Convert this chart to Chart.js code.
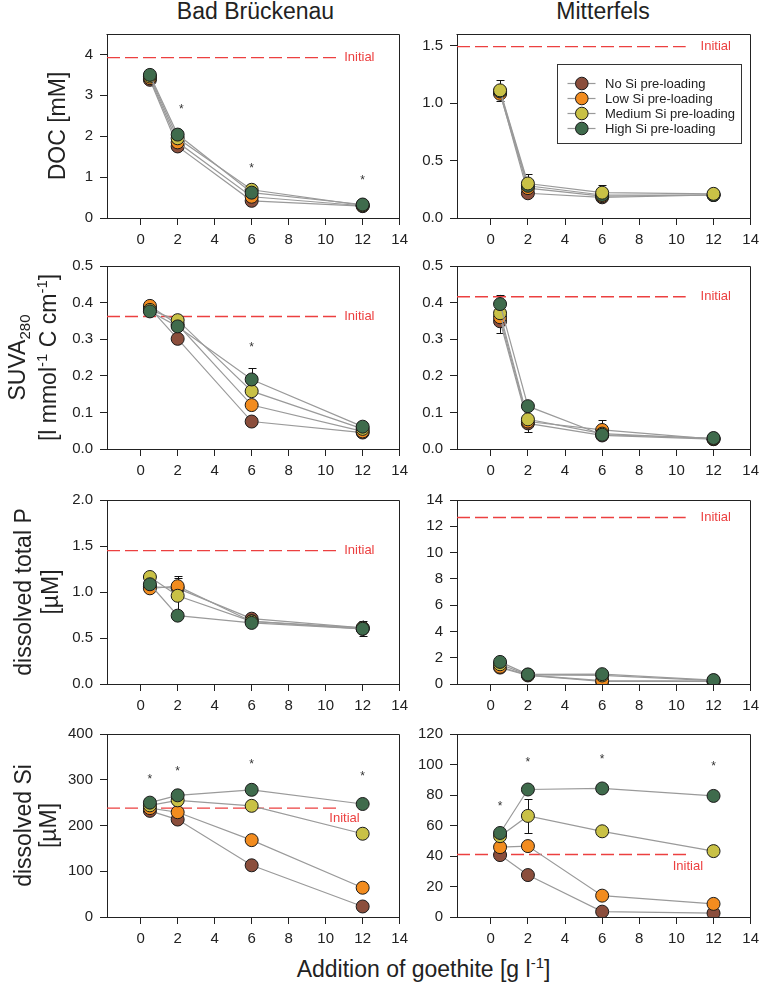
<!DOCTYPE html>
<html><head><meta charset="utf-8">
<script src="https://cdn.jsdelivr.net/npm/chart.js@4.4.1/dist/chart.umd.min.js"></script>
<style>
html,body{margin:0;padding:0;background:#fff;overflow:hidden;width:767px;height:984px;}
#wrap{position:relative;width:767px;height:984px;font-family:'Liberation Sans',Arial,sans-serif;color:#222;}
canvas{position:absolute;}
.ttl{position:absolute;font-size:23px;line-height:23px;white-space:nowrap;transform:translateX(-50%);}
.ttl .sp{font-size:15px;position:relative;top:-9px;}
</style></head><body><div id="wrap">
<div class="ttl" style="left:255.5px;top:0px">Bad Brückenau</div>
<div class="ttl" style="left:603px;top:0px">Mitterfels</div>
<div class="ttl" style="left:423.5px;top:958px">Addition of goethite [g l<span class="sp">-1</span>]</div>
</div>
<script>
// ---------------- DATA ----------------
const xValues = [0.5, 2, 6, 12];
const xTicks = [0, 2, 4, 6, 8, 10, 12, 14];
const seriesNames = ['No Si pre-loading', 'Low Si pre-loading', 'Medium Si pre-loading', 'High Si pre-loading'];

// rows: No, Low, Medium, High Si pre-loading
const docBB = [
  [3.38, 1.75, 0.42, 0.29],
  [3.42, 1.85, 0.52, 0.30],
  [3.46, 1.95, 0.69, 0.31],
  [3.50, 2.04, 0.62, 0.33]
];
const docMF = [
  [1.09, 0.215, 0.18, 0.20],
  [1.08, 0.26, 0.19, 0.20],
  [1.11, 0.30, 0.22, 0.21],
  [1.10, 0.28, 0.20, 0.20]
];
const suvaBB = [
  [0.385, 0.301, 0.075, 0.045],
  [0.391, 0.340, 0.120, 0.048],
  [0.380, 0.352, 0.158, 0.055],
  [0.376, 0.335, 0.190, 0.061]
];
const suvaMF = [
  [0.349, 0.070, 0.037, 0.027],
  [0.360, 0.075, 0.052, 0.027],
  [0.371, 0.081, 0.042, 0.028],
  [0.396, 0.117, 0.039, 0.030]
];
const pBB = [
  [1.06, 1.04, 0.71, 0.61],
  [1.04, 1.063, 0.68, 0.60],
  [1.163, 0.959, 0.68, 0.61],
  [1.084, 0.743, 0.664, 0.60]
];
const pMF = [
  [1.25, 0.65, 0.20, 0.20],
  [1.31, 0.68, 0.25, 0.22],
  [1.50, 0.70, 0.65, 0.25],
  [1.68, 0.73, 0.75, 0.30]
];
const siBB = [
  [232, 213, 113, 23],
  [238, 229, 168, 64],
  [244, 255, 243, 182],
  [250, 266, 278, 247]
];
const siMF = [
  [40.6, 27.5, 3.5, 2.5],
  [45.8, 46.5, 14.0, 8.6],
  [53.0, 66.3, 56.2, 43.2],
  [55.1, 83.6, 84.3, 79.4]
];

// initial concentrations (dashed red lines)
const initialValues = [3.92, 1.49, 0.362, 0.416, 1.45, 12.67, 238, 41];

// y tick values
const yTicksDocBB = [0, 1, 2, 3, 4];
const yTicksDocMF = [0, 0.5, 1.0, 1.5];
const yTicksSuva = [0, 0.1, 0.2, 0.3, 0.4, 0.5];
const yTicksPBB = [0, 0.5, 1.0, 1.5, 2.0];
const yTicksPMF = [0, 2, 4, 6, 8, 10, 12, 14];
const yTicksSiBB = [0, 100, 200, 300, 400];
const yTicksSiMF = [0, 20, 40, 60, 80, 100, 120];

// significance asterisks [x, y]
const starsDocBB = [[2.2, 2.73], [6, 1.28], [12, 0.99]];
const starsSuvaBB = [[6, 0.286]];
const starsSiBB = [[0.5, 307], [2, 324], [6, 340], [12, 314]];
const starsSiMF = [[0.5, 74.2], [2, 103.1], [6, 104.9], [12, 100.5]];

// error bars [series, x index, low, high]
const errDocMF = [[2, 0, 1.02, 1.20], [2, 1, 0.22, 0.38], [2, 2, 0.155, 0.286]];
const errSuvaBB = [[3, 2, 0.16, 0.22]];
const errSuvaMF = [[3, 0, 0.371, 0.421], [0, 0, 0.317, 0.381], [0, 1, 0.046, 0.094], [1, 2, 0.025, 0.079]];
const errPBB = [[1, 1, 0.95, 1.174], [2, 1, 0.76, 1.15], [3, 3, 0.52, 0.69]];
const errSiMF = [[2, 1, 55, 77.3]];

// ---------------- STYLE / LAYOUT ----------------
const seriesColors = ['#8B4E3C', '#F28C1F', '#C9C146', '#3F6B4C'];
const FF = "'Liberation Sans', Arial, sans-serif";
const AX = '#222';
const RED = '#EC4040';
const colL = [107, 457], colR = [404, 755];
const rowT = [32, 264, 498, 732], rowB = [218, 449, 684, 917];
const YWc = [107, 55];
const PT = 14, PR = 10, XH = 42;
const xMin = -1.82, xMax = 14;

const panels = [
  {col:0,row:0,data:docBB,yMax:4.5,yTicks:yTicksDocBB,dec:0,init:initialValues[0],initEnd:10.6,lab:[11.0,initialValues[0]],stars:starsDocBB,errs:[],
   title:[{base:65,segs:[['DOC [mM]']]}]},
  {col:1,row:0,data:docMF,yMax:1.6,yTicks:yTicksDocMF,dec:1,init:initialValues[1],initEnd:10.5,lab:[11.3,initialValues[1]],stars:[],errs:errDocMF,legend:true,top:2},
  {col:0,row:1,data:suvaBB,yMax:0.5,yTicks:yTicksSuva,dec:1,init:initialValues[2],initEnd:10.6,lab:[11.0,initialValues[2]],stars:starsSuvaBB,errs:errSuvaBB,
   title:[{base:25,segs:[['SUVA'],['280','sub']]},{base:56,segs:[['[l mmol'],['-1','sup'],[' C cm'],['-1','sup'],[']']]}]},
  {col:1,row:1,data:suvaMF,yMax:0.5,yTicks:yTicksSuva,dec:1,init:initialValues[3],initEnd:10.5,lab:[11.3,initialValues[3]],stars:[],errs:errSuvaMF},
  {col:0,row:2,data:pBB,yMax:2.0,yTicks:yTicksPBB,dec:1,init:initialValues[4],initEnd:10.6,lab:[11.0,initialValues[4]],stars:[],errs:errPBB,
   title:[{base:31,segs:[['dissolved total P']]},{base:58,segs:[['[µM]']]}]},
  {col:1,row:2,data:pMF,yMax:14,yTicks:yTicksPMF,dec:0,init:initialValues[5],initEnd:10.5,lab:[11.3,initialValues[5]],stars:[],errs:[]},
  {col:0,row:3,data:siBB,yMax:400,yTicks:yTicksSiBB,dec:0,init:initialValues[6],initEnd:10.6,lab:[10.2,216],stars:starsSiBB,errs:[],
   title:[{base:31,segs:[['dissolved Si']]},{base:56,segs:[['[µM]']]}]},
  {col:1,row:3,data:siMF,yMax:120,yTicks:yTicksSiMF,dec:0,init:initialValues[7],initEnd:10.6,lab:[9.8,33],stars:starsSiMF,errs:errSiMF}
];

function makeDeco(p){
  return {
    id: 'deco',
    beforeDatasetsDraw(chart){
      const ctx = chart.ctx, xs = chart.scales.x, ys = chart.scales.y;
      ctx.save();
      ctx.strokeStyle = '#111'; ctx.lineWidth = 1;
      p.errs.forEach(e => {
        const px = Math.round(xs.getPixelForValue(xValues[e[1]])) + 0.5;
        const lo = ys.getPixelForValue(e[2]), hi = ys.getPixelForValue(e[3]);
        ctx.beginPath();
        ctx.moveTo(px, lo); ctx.lineTo(px, hi);
        ctx.moveTo(px - 4, Math.round(lo) + 0.5); ctx.lineTo(px + 4, Math.round(lo) + 0.5);
        ctx.moveTo(px - 4, Math.round(hi) + 0.5); ctx.lineTo(px + 4, Math.round(hi) + 0.5);
        ctx.stroke();
      });
      ctx.restore();
    },
    afterDatasetsDraw(chart){
      const ctx = chart.ctx, xs = chart.scales.x, ys = chart.scales.y;
      ctx.save();
      ctx.fillStyle = '#333';
      ctx.font = '12px ' + FF;
      ctx.textAlign = 'center'; ctx.textBaseline = 'middle';
      p.stars.forEach(s => ctx.fillText('*', xs.getPixelForValue(s[0]), ys.getPixelForValue(s[1]) + 3));
      ctx.fillStyle = RED;
      ctx.font = '13px ' + FF;
      ctx.textAlign = 'left';
      ctx.fillText('Initial', xs.getPixelForValue(p.lab[0]), ys.getPixelForValue(p.lab[1]));
      ctx.restore();
    },
    afterDraw(chart){
      const ctx = chart.ctx, a = chart.chartArea;
      ctx.save();
      ctx.strokeStyle = AX; ctx.lineWidth = 1;
      const l = Math.round(a.left) - 0.5, r = Math.round(a.right) - 0.5, t = Math.round(a.top) + 0.5;
      ctx.beginPath();
      ctx.moveTo(l, t); ctx.lineTo(r, t); ctx.lineTo(r, Math.round(a.bottom));
      ctx.stroke();
      // y titles
      if (p.title) {
        const cy = (a.top + a.bottom) / 2;
        p.title.forEach(line => {
          const parts = line.segs.map(s => ({t: s[0], k: s[1] || '', f: (s[1] ? 15 : 23)}));
          let total = 0;
          parts.forEach(pt => { ctx.font = pt.f + 'px ' + FF; pt.w = ctx.measureText(pt.t).width; total += pt.w; });
          ctx.save();
          ctx.translate(line.base, cy);
          ctx.rotate(-Math.PI / 2);
          ctx.fillStyle = '#222';
          ctx.textBaseline = 'alphabetic'; ctx.textAlign = 'left';
          let x = -total / 2;
          parts.forEach(pt => {
            ctx.font = pt.f + 'px ' + FF;
            const dy = pt.k === 'sub' ? 5 : (pt.k === 'sup' ? -9 : 0);
            ctx.fillText(pt.t, x, dy);
            x += pt.w;
          });
          ctx.restore();
        });
      }
      // legend
      if (p.legend) {
        const bx = Math.round(a.right - 193.5) + 0.5, by = Math.round(a.top + 29.5) + 0.5, bw = 184, bh = 79;
        ctx.fillStyle = '#fff'; ctx.fillRect(bx, by, bw, bh);
        ctx.strokeStyle = '#333'; ctx.strokeRect(bx, by, bw, bh);
        ctx.font = '13px ' + FF; ctx.textBaseline = 'middle'; ctx.textAlign = 'left';
        seriesNames.forEach((nm, i) => {
          const yy = by + 19 + i * 15;
          ctx.strokeStyle = '#9a9a9a'; ctx.lineWidth = 1.2;
          ctx.beginPath(); ctx.moveTo(bx + 10, yy); ctx.lineTo(bx + 38, yy); ctx.stroke();
          ctx.beginPath(); ctx.arc(bx + 24.3, yy, 6.3, 0, Math.PI * 2);
          ctx.fillStyle = seriesColors[i]; ctx.fill();
          ctx.strokeStyle = '#1a1a1a'; ctx.lineWidth = 1; ctx.stroke();
          ctx.fillStyle = '#222';
          ctx.fillText(nm, bx + 47.5, yy + 0.5);
        });
      }
      ctx.restore();
    }
  };
}

const wrap = document.getElementById('wrap');

function makeChart(p){
  const L = colL[p.col], R = colR[p.col], T = rowT[p.row], B = rowB[p.row];
  const YW = YWc[p.col];
  const W = R - L + YW + PR, H = B - T + PT + XH;
  const cv = document.createElement('canvas');
  cv.width = W; cv.height = H;
  cv.style.left = (L - YW) + 'px'; cv.style.top = (T - PT) + 'px';
  cv.style.width = W + 'px'; cv.style.height = H + 'px';
  wrap.appendChild(cv);
  const orderTop = p.top === 2 ? [3, 2, 0, 1] : [3, 2, 1, 0];
  const datasets = p.data.map((vals, i) => ({
    label: seriesNames[i],
    data: vals.map((v, j) => ({x: xValues[j], y: v})),
    borderColor: '#9a9a9a', borderWidth: 1.2, tension: 0, fill: false,
    pointRadius: 6.5, pointHoverRadius: 6.5, pointBorderWidth: 1,
    pointBorderColor: '#1a1a1a', pointBackgroundColor: seriesColors[i],
    order: orderTop[i]
  }));
  datasets.push({
    label: 'Initial',
    data: [{x: xMin, y: p.init}, {x: p.initEnd, y: p.init}],
    borderColor: RED, borderWidth: 1.3, borderDash: [13, 5], pointRadius: 0, fill: false, order: 10
  });
  const tickFont = {family: FF, size: 15};
  new Chart(cv, {
    type: 'line',
    data: {datasets},
    options: {
      responsive: false, animation: false, devicePixelRatio: 1, events: [],
      layout: {autoPadding: false, padding: {left: 0, right: PR, top: PT, bottom: 0}},
      plugins: {legend: {display: false}, title: {display: false}, tooltip: {enabled: false}},
      scales: {
        x: {
          type: 'linear', min: xMin, max: xMax,
          afterBuildTicks: s => { s.ticks = xTicks.map(v => ({value: v})); },
          afterFit: s => { s.height = XH; },
          ticks: {font: tickFont, color: AX, padding: 6, autoSkip: false, maxRotation: 0, callback: v => String(v)},
          grid: {drawOnChartArea: false, drawTicks: true, tickLength: 7, color: AX},
          border: {display: true, color: AX, width: 1}
        },
        y: {
          type: 'linear', min: 0, max: p.yMax,
          afterBuildTicks: s => { s.ticks = p.yTicks.map(v => ({value: v})); },
          afterFit: s => { s.width = YW; },
          ticks: {font: tickFont, color: AX, padding: 7, autoSkip: false, callback: v => Number(v).toFixed(p.dec)},
          grid: {drawOnChartArea: false, drawTicks: true, tickLength: 7, color: AX},
          border: {display: true, color: AX, width: 1}
        }
      }
    },
    plugins: [makeDeco(p)]
  });
}

panels.forEach(makeChart);
</script>
</body></html>
